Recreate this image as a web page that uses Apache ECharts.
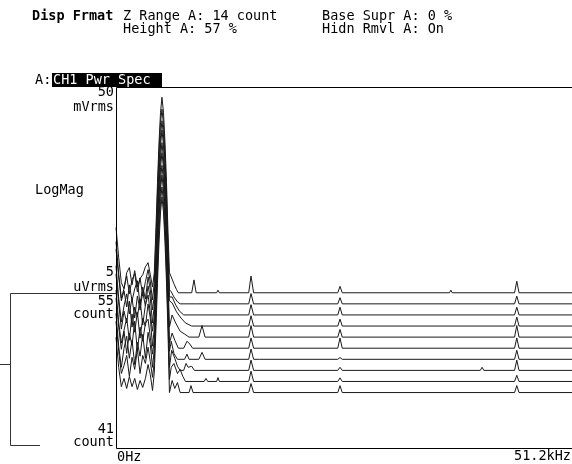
<!DOCTYPE html>
<html><head><meta charset="utf-8">
<script src="https://cdn.jsdelivr.net/npm/echarts@6/dist/echarts.min.js"></script>
<style>html,body{margin:0;padding:0;background:#fff}#c{width:572px;height:464px}</style>
</head><body><div id="c"></div>
<script>
// Waterfall of power spectra, level in dBVrms vs frequency in kHz, one array per count (55 = back, 46 = front)
const counts = [55, 54, 53, 52, 51, 50, 49, 48, 47, 46];
const t55 = [[0,-80.6],[0.3,-92.3],[0.6,-102.1],[0.9,-104.4],[1.2,-98.2],[1.5,-96.2],[1.8,-102.9],[2.1,-97.4],[2.4,-103.7],[2.7,-100.5],[3.0,-99.0],[3.3,-95.9],[3.6,-94.3],[3.85,-99.0],[4.1,-103.7],
  [4.3,-98.2],[4.49,-80.6],[4.66,-63.1],[4.83,-47.5],[5.0,-35.8],[5.16,-30],[5.33,-35.8],[5.5,-47.5],[5.67,-63.1],[5.84,-82.6],
  [6.0,-98.2],[6.2,-99.8],[6.5,-102.5],[6.8,-104.8],[7.0,-106],[8.5,-106],[8.76,-101],[9.0,-106],[11.3,-106],[11.45,-105],[11.6,-106],[14.9,-106],[15.16,-99.5],[15.45,-106],[24.9,-106],[25.15,-103.5],[25.4,-106],[37.45,-106],[37.6,-105],[37.75,-106],[44.75,-106],[45.0,-101.5],[45.25,-106],[51.2,-106]];
const t54 = [[0,-81.8],[0.3,-94.3],[0.6,-103.7],[0.9,-100.1],[1.2,-95.1],[1.5,-102.1],[1.8,-96.6],[2.1,-94.3],[2.4,-101.3],[2.7,-95.9],[3.0,-102.9],[3.3,-97.4],[3.6,-92.7],[3.85,-97.4],[4.1,-104.4],
  [4.3,-97.5],[4.49,-80],[4.66,-62.5],[4.83,-47],[5.0,-35.5],[5.16,-30.3],[5.33,-36.2],[5.5,-48],[5.67,-63.5],[5.84,-83.4],
  [6.0,-100.5],[6.2,-101.3],[6.5,-103.3],[6.9,-105.2],[7.2,-106],[8.65,-106],[8.76,-105.5],[8.9,-106],[14.9,-106],[15.16,-102],[15.45,-106],[24.9,-106],[25.15,-103.6],[25.4,-106],[44.75,-106],[45.0,-103],[45.25,-106],[51.2,-106]];
const t53 = [[0,-80.3],[0.3,-91.2],[0.6,-100.5],[0.9,-96.6],[1.2,-102.9],[1.5,-94.3],[1.8,-100.5],[2.1,-95.9],[2.4,-92.7],[2.7,-102.1],[3.0,-95.1],[3.3,-99.8],[3.6,-91.2],[3.85,-96.2],[4.1,-104.0],
  [4.3,-98.6],[4.49,-81],[4.66,-63.5],[4.83,-48],[5.0,-36.2],[5.16,-30.5],[5.33,-36],[5.5,-47.2],[5.67,-62.8],[5.84,-81.8],
  [6.0,-99],[6.3,-99],[6.7,-102.1],[7.1,-104.4],[7.6,-106],[14.9,-106],[15.16,-102],[15.45,-106],[24.9,-106],[25.15,-103],[25.4,-106],[43.0,-106],[43.1,-105.6],[43.2,-106],[44.75,-106],[45.0,-103],[45.25,-106],[51.2,-106]];
const t52 = [[0,-82.6],[0.3,-95.1],[0.6,-104.4],[0.9,-98.2],[1.2,-93.5],[1.5,-101.3],[1.8,-95.1],[2.1,-102.9],[2.4,-94.3],[2.7,-99.8],[3.0,-92.7],[3.3,-98.2],[3.6,-90.4],[3.85,-95.1],[4.1,-104.8],
  [4.3,-97.8],[4.49,-80.2],[4.66,-62.8],[4.83,-47.3],[5.0,-35.6],[5.16,-29.8],[5.33,-35.5],[5.5,-47.8],[5.67,-63.4],[5.84,-82.6],
  [6.0,-96.2],[6.3,-97],[6.8,-100.5],[7.3,-102.9],[7.8,-104.8],[8.5,-106],[14.9,-106],[15.16,-102],[15.45,-106],[24.9,-106],[25.15,-103.3],[25.4,-106],[44.75,-106],[45.0,-102.5],[45.25,-106],[51.2,-106]];
const t51 = [[0,-81.4],[0.3,-92.7],[0.6,-102.9],[0.9,-95.9],[1.2,-100.5],[1.5,-92.0],[1.8,-102.1],[2.1,-94.3],[2.4,-98.2],[2.7,-91.2],[3.0,-101.3],[3.3,-93.5],[3.6,-89.6],[3.85,-96.6],[4.1,-103.7],
  [4.3,-98],[4.49,-80.8],[4.66,-63.3],[4.83,-47.6],[5.0,-36],[5.16,-30.4],[5.33,-36.4],[5.5,-48.2],[5.67,-63],[5.84,-83.4],
  [6.0,-102.1],[6.3,-97.4],[6.7,-100.5],[7.2,-103.7],[7.7,-104.8],[8.2,-106],[9.3,-106],[9.66,-101.5],[10.0,-106],[14.9,-106],[15.16,-101.5],[15.45,-106],[24.9,-106],[25.15,-103],[25.4,-106],[44.75,-106],[45.0,-101.5],[45.25,-106],[51.2,-106]];
const t50 = [[0,-83.4],[0.3,-95.9],[0.6,-104.0],[0.9,-99.0],[1.2,-94.3],[1.5,-102.9],[1.8,-92.7],[2.1,-99.8],[2.4,-92.0],[2.7,-102.1],[3.0,-94.3],[3.3,-97.4],[3.6,-88.8],[3.85,-94.3],[4.1,-105.2],
  [4.3,-98.2],[4.49,-80.6],[4.66,-63.1],[4.83,-47.5],[5.0,-35.8],[5.16,-30],[5.33,-35.8],[5.5,-47.5],[5.67,-63.1],[5.84,-82.6],
  [6.0,-104],[6.3,-100.1],[6.6,-102.9],[7.0,-106],[7.6,-106],[7.97,-103.3],[8.3,-104.4],[8.6,-106],[14.9,-106],[15.16,-102],[15.45,-106],[24.9,-106],[25.15,-102],[25.4,-106],[44.75,-106],[45.0,-102],[45.25,-106],[51.2,-106]];
const t49 = [[0,-82.2],[0.3,-93.5],[0.6,-102.1],[0.9,-95.1],[1.2,-103.7],[1.5,-95.9],[1.8,-100.5],[2.1,-91.2],[2.4,-102.9],[2.7,-93.5],[3.0,-99.0],[3.3,-92.0],[3.6,-90.4],[3.85,-97.4],[4.1,-104.0],
  [4.3,-98.4],[4.49,-81.2],[4.66,-63.6],[4.83,-47.9],[5.0,-36.1],[5.16,-30.6],[5.33,-36.3],[5.5,-48],[5.67,-62.6],[5.84,-81.8],
  [6.0,-102.9],[6.2,-99],[6.5,-103.7],[6.9,-106],[7.7,-106],[7.97,-104],[8.2,-106],[9.3,-106],[9.66,-103.3],[10.0,-106],[14.9,-106],[15.16,-102],[15.45,-106],[16.1,-106],[16.2,-105.3],[16.3,-106],[24.9,-106],[25.15,-105.3],[25.4,-106],[44.75,-106],[45.0,-102.5],[45.25,-106],[51.2,-106]];
const t48 = [[0,-83.8],[0.3,-96.6],[0.6,-104.8],[0.9,-97.4],[1.2,-92.7],[1.5,-101.3],[1.8,-94.3],[2.1,-103.7],[2.4,-95.1],[2.7,-100.5],[3.0,-92.0],[3.3,-101.3],[3.6,-91.2],[3.85,-95.9],[4.1,-104.8],
  [4.3,-97.6],[4.49,-80.3],[4.66,-62.7],[4.83,-47.2],[5.0,-35.5],[5.16,-30.1],[5.33,-35.9],[5.5,-47.7],[5.67,-62.9],[5.84,-82.9],
  [6.0,-104.8],[6.25,-98.2],[6.6,-101.3],[6.9,-104.4],[7.2,-106],[7.6,-106],[7.86,-103.3],[8.1,-104.8],[8.5,-104.4],[8.8,-106],[14.9,-106],[15.16,-102],[15.45,-106],[24.9,-106],[25.15,-104.8],[25.4,-106],[40.9,-106],[41.1,-104.8],[41.3,-106],[44.75,-106],[45.0,-102],[45.25,-106],[51.2,-106]];
const t47 = [[0,-82.6],[0.3,-94.3],[0.6,-102.9],[0.9,-99.8],[1.2,-95.9],[1.5,-104.0],[1.8,-96.6],[2.1,-101.3],[2.4,-93.5],[2.7,-102.9],[3.0,-95.9],[3.3,-99.0],[3.6,-92.7],[3.85,-98.2],[4.1,-104.4],
  [4.3,-98.1],[4.49,-80.7],[4.66,-63.2],[4.83,-47.7],[5.0,-36],[5.16,-30.4],[5.33,-36.1],[5.5,-47.9],[5.67,-63.3],[5.84,-82.4],
  [6.0,-105.2],[6.2,-100.5],[6.5,-99],[6.9,-102.9],[7.2,-101.3],[7.5,-104],[7.8,-106],[9.9,-106],[10.1,-104.8],[10.3,-106],[11.3,-106],[11.45,-104.5],[11.6,-106],[14.9,-106],[15.16,-102],[15.45,-106],[24.9,-106],[25.15,-104.6],[25.4,-106],[44.75,-106],[45.0,-103.6],[45.25,-106],[51.2,-106]];
const t46 = [[0,-84.5],[0.3,-96.2],[0.6,-103.7],[0.9,-100.5],[1.2,-104.4],[1.5,-99.8],[1.8,-103.7],[2.1,-100.5],[2.4,-104.8],[2.7,-101.3],[3.0,-104.0],[3.3,-100.5],[3.6,-95.1],[3.85,-99.0],[4.1,-105.2],
  [4.3,-98.2],[4.49,-80.6],[4.66,-63.1],[4.83,-47.5],[5.0,-35.8],[5.16,-30],[5.33,-35.8],[5.5,-47.5],[5.67,-63.1],[5.84,-82.6],
  [6.0,-106],[6.3,-101.3],[6.6,-104.4],[6.9,-102.1],[7.2,-106],[8.2,-106],[8.42,-103.3],[8.65,-106],[14.9,-106],[15.16,-102.5],[15.45,-106],[24.9,-106],[25.15,-103.3],[25.4,-106],[44.75,-106],[45.0,-103.3],[45.25,-106],[51.2,-106]];
const traces = [t55, t54, t53, t52, t51, t50, t49, t48, t47, t46];

// Display format settings (from header)
const zRangeCount = 14;      // Z Range A: 14 count
const heightPct = 57;        // Height A: 57 %
const topDb = -26;           // 50 mVrms
const floorDb = -106;        // 5 uVrms
const freqMaxKHz = 51.2;

const traceSpan = topDb - floorDb;
const fullSpan = traceSpan / (heightPct / 100);
const zStep = fullSpan * (1 - heightPct / 100) / zRangeCount;
const yMin = topDb - fullSpan;

const FONT = '13.5px "DejaVu Sans Mono", monospace';
const FONTB = 'bold 13.5px "DejaVu Sans Mono", monospace';
function txt(text, x, y, align, opts) {
  opts = opts || {};
  return { type: 'text', x: x, y: y, z: 100, silent: true,
    style: { text: text, font: opts.font || FONT, fill: opts.fill || '#000',
      align: align, verticalAlign: 'middle' } };
}
function ln(x1, y1, x2, y2, c) {
  return { type: 'line', z: 100, silent: true, shape: { x1: x1, y1: y1, x2: x2, y2: y2 },
    style: { stroke: c || '#000', lineWidth: 1 } };
}

const chart = echarts.init(document.getElementById('c'), null, { renderer: 'canvas' });
const series = traces.map((t, i) => {
  const off = (counts[0] - counts[i]) * zStep;
  return {
    type: 'line', name: counts[i] + ' count', symbol: 'none', showSymbol: false, silent: true,
    animation: false,
    data: t.map(p => [p[0], Math.max(p[1], floorDb) - off]),
    lineStyle: { color: '#1a1a1a', width: 1 },
    areaStyle: { color: '#fff', opacity: 1, origin: floorDb - off },
    z: 2
  };
});

chart.setOption({
  animation: false,
  backgroundColor: '#fff',
  grid: { left: 116, top: 87, right: -2, bottom: 16, show: false },
  xAxis: { type: 'value', min: 0, max: freqMaxKHz, show: false },
  yAxis: { type: 'value', min: yMin, max: topDb, show: false },
  series: series,
  graphic: [
    txt('Disp Frmat', 32, 16, 'left', { font: FONTB }),
    txt('Z Range A: ' + zRangeCount + ' count', 123, 16, 'left'),
    txt('Height A: ' + heightPct + ' %', 123, 29, 'left'),
    txt('Base Supr A: 0 %', 322, 16, 'left'),
    txt('Hidn Rmvl A: On', 322, 29, 'left'),
    txt('A:', 35, 80, 'left'),
    { type: 'rect', z: 99, silent: true, shape: { x: 52, y: 73, width: 110, height: 14 }, style: { fill: '#000' } },
    txt('CH1 Pwr Spec', 53, 80, 'left', { fill: '#fff' }),
    txt('50', 114, 92, 'right'),
    txt('mVrms', 114, 107, 'right'),
    txt('LogMag', 35, 190, 'left'),
    txt('5', 114, 272, 'right'),
    txt('uVrms', 114, 287, 'right'),
    txt('55', 114, 301, 'right'),
    txt('count', 114, 314, 'right'),
    txt('41', 114, 429, 'right'),
    txt('count', 114, 442, 'right'),
    txt('0Hz', 117, 457, 'left'),
    txt('51.2kHz', 571, 456, 'right'),
    // frame
    ln(116.5, 87.5, 572, 87.5),
    ln(116.5, 87.5, 116.5, 448.5),
    ln(116.5, 448.5, 572, 448.5),
    // z-axis bracket
    ln(10.5, 293.5, 116, 293.5, '#333'),
    ln(10.5, 293.5, 10.5, 445.5, '#333'),
    ln(10.5, 445.5, 40, 445.5, '#333'),
    ln(0, 364.5, 10.5, 364.5, '#333')
  ]
});
</script></body></html>
